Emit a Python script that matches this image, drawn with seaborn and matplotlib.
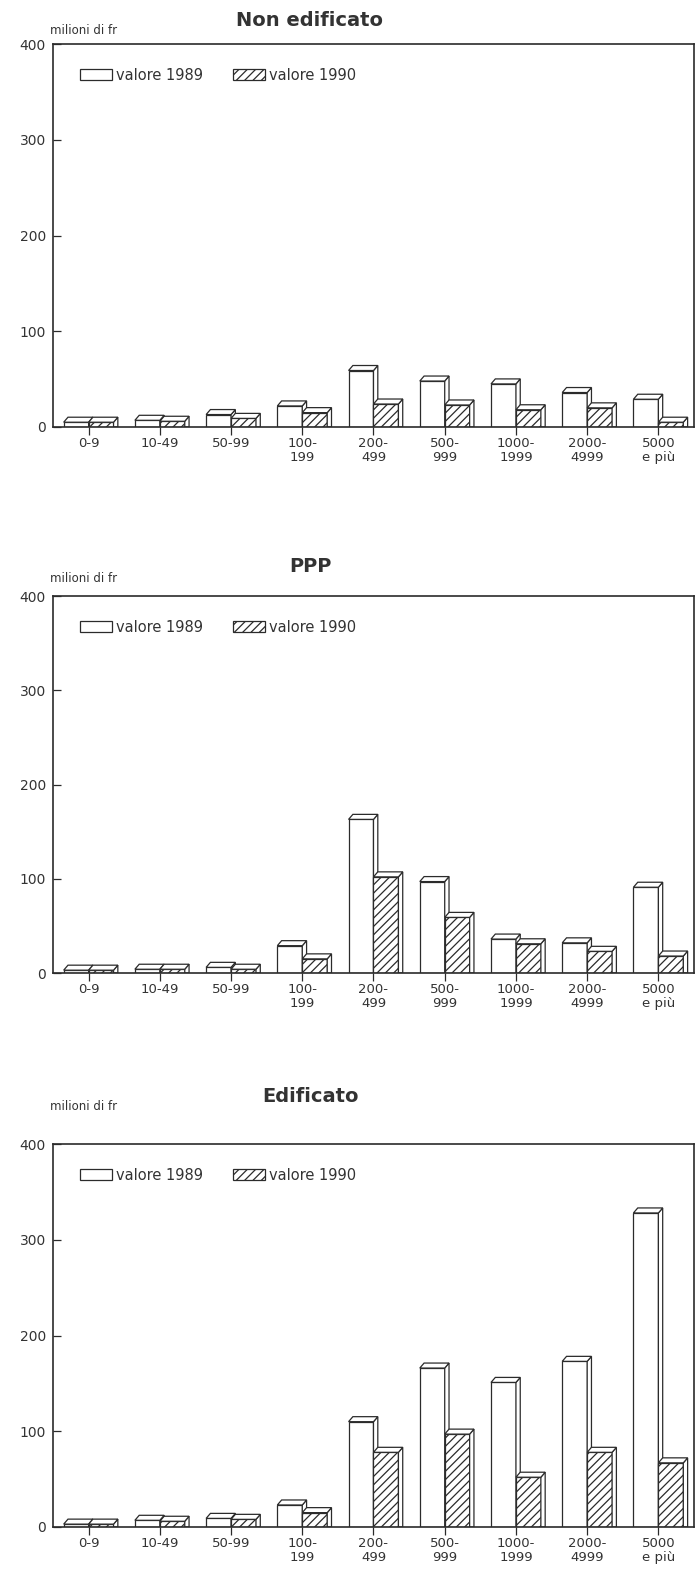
import matplotlib
matplotlib.use("Agg")
import matplotlib.pyplot as plt
from matplotlib.patches import Polygon, Patch
import pandas as pd
import seaborn as sb

# dati (milioni di fr)
classi = ["0-9", "10-49", "50-99", "100-\n199", "200-\n499", "500-\n999",
          "1000-\n1999", "2000-\n4999", "5000\ne più"]
anni = ["valore 1989", "valore 1990"]

non_edif_1989 = [5, 7, 13, 22, 59, 48, 45, 36, 29]
non_edif_1990 = [5, 6, 9, 15, 24, 23, 18, 20, 5]
ppp_1989 = [3, 4, 6, 29, 163, 97, 36, 32, 91]
ppp_1990 = [3, 4, 4, 15, 102, 59, 31, 23, 18]
edif_1989 = [3, 7, 9, 23, 110, 166, 151, 173, 328]
edif_1990 = [3, 6, 8, 15, 78, 97, 52, 78, 67]

titoli = ["Non edificato", "PPP", "Edificato"]

sb.set_theme(style="white")
plt.rcParams["font.family"] = ["DejaVu Sans"]
plt.rcParams["hatch.linewidth"] = 0.9

LINEA = "#2b2b2b"
TESTO = "#333333"
W, H = 697, 1571

fig = plt.figure(figsize=(W / 100, H / 100), dpi=100)

# (top, bottom, y titolo, y unita') in pixel per ogni pannello
posizioni = [(44, 427, 20, 30), (596, 973, 567, 578), (1144, 1527, 1096, 1107)]


def pannello(ax, titolo, v89, v90, y_tit, y_unit, top_px):
    df = pd.DataFrame({
        "classe": classi * 2,
        "valore": v89 + v90,
        "anno": [anni[0]] * len(classi) + [anni[1]] * len(classi),
    })
    sb.barplot(data=df, x="classe", y="valore", hue="anno", order=classi,
               hue_order=anni, palette=["white", "white"], saturation=1,
               width=0.7, edgecolor=LINEA, linewidth=0.9, errorbar=None,
               legend=False, ax=ax)
    ax.set_xlim(-0.5, len(classi) - 0.5)
    ax.set_ylim(0, 400)
    ax.set_yticks([0, 100, 200, 300, 400])
    ax.set_xlabel("")
    ax.set_ylabel("")

    # profondita' 3D in pixel -> unita' dati
    pos = ax.get_position()
    ax_w = pos.width * W
    ax_h = pos.height * H
    dx = 4.3 / ax_w * len(classi)
    dy = 5.0 / ax_h * 400

    for i, cont in enumerate(ax.containers):
        for rect in cont:
            rect.set_zorder(2 + i)
            if i == 1:
                rect.set_hatch("////")
            x0, w, h = rect.get_x(), rect.get_width(), rect.get_height()
            top = Polygon([(x0, h), (x0 + dx, h + dy), (x0 + w + dx, h + dy), (x0 + w, h)],
                          closed=True, facecolor="white", edgecolor=LINEA,
                          linewidth=0.9, zorder=2.5 + i)
            side = Polygon([(x0 + w, 0), (x0 + w + dx, 0), (x0 + w + dx, h + dy), (x0 + w, h)],
                           closed=True, facecolor="white", edgecolor=LINEA,
                           linewidth=0.9, zorder=2.5 + i)
            ax.add_patch(side)
            ax.add_patch(top)

    for s in ax.spines.values():
        s.set_visible(True)
        s.set_color(LINEA)
        s.set_linewidth(1.2)
        s.set_zorder(5)

    ax.tick_params(axis="y", direction="in", length=6, width=0.9, pad=5,
                   labelsize=10, colors=LINEA, labelcolor=TESTO, left=True)
    ax.tick_params(axis="x", direction="out", length=6, width=0.9, pad=1.5,
                   labelsize=9.5, colors=LINEA, labelcolor=TESTO, bottom=True)
    for t in ax.get_xticklabels():
        t.set_linespacing(1.05)

    # titolo e unita'
    ax.text((310 - 53) / ax_w, 1 + (top_px - y_tit) / ax_h, titolo, transform=ax.transAxes,
            ha="center", va="center", fontsize=14, fontweight="bold", color=TESTO)
    ax.text(-3 / ax_w, 1 + (top_px - y_unit) / ax_h, "milioni di fr", transform=ax.transAxes,
            ha="left", va="center", fontsize=8.5, color=TESTO)

    handles = [Patch(facecolor="white", edgecolor=LINEA, linewidth=0.9),
               Patch(facecolor="white", edgecolor=LINEA, linewidth=0.9, hatch="////")]
    ax.legend(handles, anni, loc="center left",
              bbox_to_anchor=((80 - 53) / ax_w, 1 - 31 / ax_h),
              ncol=2, frameon=False, fontsize=10.5, borderpad=0, borderaxespad=0,
              handlelength=2.2, handleheight=0.8, handletextpad=0.3,
              columnspacing=2.0, labelcolor=TESTO)


serie = [(non_edif_1989, non_edif_1990), (ppp_1989, ppp_1990), (edif_1989, edif_1990)]
for (top_px, bot_px, y_tit, y_unit), titolo, (v89, v90) in zip(posizioni, titoli, serie):
    ax = fig.add_axes([53 / W, 1 - bot_px / H, (694 - 53) / W, (bot_px - top_px) / H])
    pannello(ax, titolo, v89, v90, y_tit, y_unit, top_px)

fig.savefig("out.png", dpi=100, facecolor="white")
